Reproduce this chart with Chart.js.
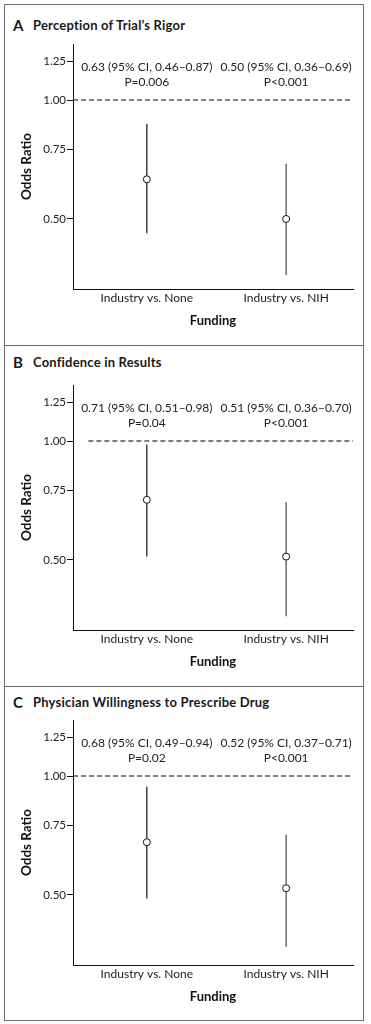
<!DOCTYPE html>
<html>
<head>
<meta charset="utf-8">
<script src="https://cdn.jsdelivr.net/npm/chart.js@4.4.1/dist/chart.umd.min.js"></script>
<style>
  body { margin: 0; background: #fff; font-family: Lato, sans-serif; }
  .panel { position: absolute; left: 4px; width: 360px; box-sizing: border-box; border: 1px solid #6b6b6b; }
  .panel canvas { position: absolute; left: 0; top: 0; }
  .heading { position: absolute; font-weight: bold; color: #1a1a1a; white-space: nowrap; line-height: 16px; }
  .letter { left: 8px; font-size: 15px; }
  .title { left: 28px; font-size: 13px; letter-spacing: 0.2px; }
</style>
</head>
<body>

<div class="panel" id="panel-a" style="top:4px;height:342px">
  <span class="heading letter" style="top:12px">A</span>
  <span class="heading title" style="top:12px">Perception of Trial’s Rigor</span>
  <canvas id="chart-a"></canvas>
</div>
<div class="panel" id="panel-b" style="top:345px;height:342px">
  <span class="heading letter" style="top:8px">B</span>
  <span class="heading title" style="top:8px">Confidence in Results</span>
  <canvas id="chart-b"></canvas>
</div>
<div class="panel" id="panel-c" style="top:686px;height:335px">
  <span class="heading letter" style="top:7px">C</span>
  <span class="heading title" style="top:7px">Physician Willingness to Prescribe Drug</span>
  <canvas id="chart-c"></canvas>
</div>

<script>
// categories on the x axis
var categories = ["Industry vs. None", "Industry vs. NIH"]
var yTicks = [0.5, 0.75, 1.0, 1.25]

// A: perception of trial's rigor
var oddsA = [0.63, 0.50]
var lowA = [0.46, 0.36]
var highA = [0.87, 0.69]
var pA = ["P=0.006", "P<0.001"]

// B: confidence in results
var oddsB = [0.71, 0.51]
var lowB = [0.51, 0.36]
var highB = [0.98, 0.70]
var pB = ["P=0.04", "P<0.001"]

// C: physician willingness to prescribe drug
var oddsC = [0.68, 0.52]
var lowC = [0.49, 0.37]
var highC = [0.94, 0.71]
var pC = ["P=0.02", "P<0.001"]

var X_MIN = -0.53
var X_MAX = 1.48
var Y_MIN = 0.3325
var Y_MAX = 1.386
var TEXT_ROW1 = 1.21
var TEXT_ROW2 = 1.11

var ciTextPlugin = {
    id: 'ciText',
    afterDatasetsDraw: function (chart, args, opts) {
        var ctx = chart.ctx
        var x = chart.scales.x
        var y = chart.scales.y
        ctx.save()
        ctx.font = '12px Lato'
        ctx.fillStyle = '#222'
        ctx.textAlign = 'center'
        ctx.textBaseline = 'middle'
        for (var i = 0; i < opts.odds.length; i++) {
            var line1 = opts.odds[i].toFixed(2) + ' (95% CI, ' + opts.low[i].toFixed(2) + '–' + opts.high[i].toFixed(2) + ')'
            ctx.fillText(line1, x.getPixelForValue(i), y.getPixelForValue(TEXT_ROW1))
            ctx.fillText(opts.p[i], x.getPixelForValue(i), y.getPixelForValue(TEXT_ROW2))
        }
        ctx.restore()
    }
}

function createPanel(canvasId, odds, low, high, pvals, dashStart, areaTop, canvasHeight) {
    var canvas = document.getElementById(canvasId)
    canvas.width = 358
    canvas.height = canvasHeight
    canvas.style.width = '358px'
    canvas.style.height = canvasHeight + 'px'

    var datasets = []
    datasets.push({
        type: 'scatter',
        data: odds.map(function (v, i) { return { x: i, y: v } }),
        pointRadius: 3.5,
        pointHoverRadius: 3.5,
        pointBackgroundColor: '#fff',
        pointBorderColor: '#111',
        pointBorderWidth: 1
    })
    for (var i = 0; i < odds.length; i++) {
        datasets.push({
            type: 'line',
            data: [{ x: i, y: low[i] }, { x: i, y: high[i] }],
            borderColor: i == 0 ? '#111' : '#444',
            borderWidth: 1.2,
            pointRadius: 0
        })
    }
    datasets.push({
        type: 'line',
        data: [{ x: dashStart, y: 1 }, { x: X_MAX, y: 1 }],
        borderColor: '#000',
        borderWidth: 1.1,
        borderDash: [5, 3],
        pointRadius: 0
    })

    new Chart(canvas, {
        type: 'scatter',
        data: { datasets: datasets },
        options: {
            responsive: false,
            animation: false,
            events: [],
            layout: { padding: { top: areaTop, right: 10, bottom: canvasHeight - areaTop - 245 - 50, left: 0 } },
            scales: {
                x: {
                    type: 'linear',
                    min: X_MIN,
                    max: X_MAX,
                    afterBuildTicks: function (scale) {
                        scale.ticks = categories.map(function (c, i) { return { value: i } })
                    },
                    afterFit: function (scale) { scale.height = 50 },
                    ticks: {
                        padding: 2,
                        color: '#222',
                        font: { family: 'Lato', size: 12 },
                        callback: function (v) { return categories[v] }
                    },
                    grid: { display: false, drawTicks: false, tickLength: 0 },
                    border: { display: true, color: '#111', width: 1 },
                    title: {
                        display: true,
                        text: 'Funding',
                        color: '#111',
                        font: { family: 'Lato', size: 13, weight: 'bold' },
                        padding: { top: 0, bottom: 10 }
                    }
                },
                y: {
                    type: 'logarithmic',
                    min: Y_MIN,
                    max: Y_MAX,
                    bounds: 'data',
                    afterBuildTicks: function (scale) {
                        scale.ticks = yTicks.map(function (v) { return { value: v } })
                    },
                    afterFit: function (scale) { scale.width = 68 },
                    ticks: {
                        padding: 1,
                        color: '#222',
                        font: { family: 'Lato', size: 11.5 },
                        callback: function (v) { return Number(v).toFixed(2) }
                    },
                    grid: { display: true, drawOnChartArea: false, drawTicks: true, tickLength: 6, color: '#111' },
                    border: { display: true, color: '#111', width: 1 },
                    title: {
                        display: true,
                        text: 'Odds Ratio',
                        color: '#111',
                        font: { family: 'Lato', size: 13.5, weight: 'bold' },
                        padding: { top: 14, bottom: 0 }
                    }
                }
            },
            plugins: {
                legend: { display: false },
                tooltip: { enabled: false },
                ciText: { odds: odds, low: low, high: high, p: pvals }
            }
        },
        plugins: [ciTextPlugin]
    })
}

createPanel('chart-a', oddsA, lowA, highA, pA, X_MIN, 39, 340)
createPanel('chart-b', oddsB, lowB, highB, pB, -0.42, 39, 340)
createPanel('chart-c', oddsC, lowC, highC, pC, X_MIN, 33, 333)
</script>
</body>
</html>
